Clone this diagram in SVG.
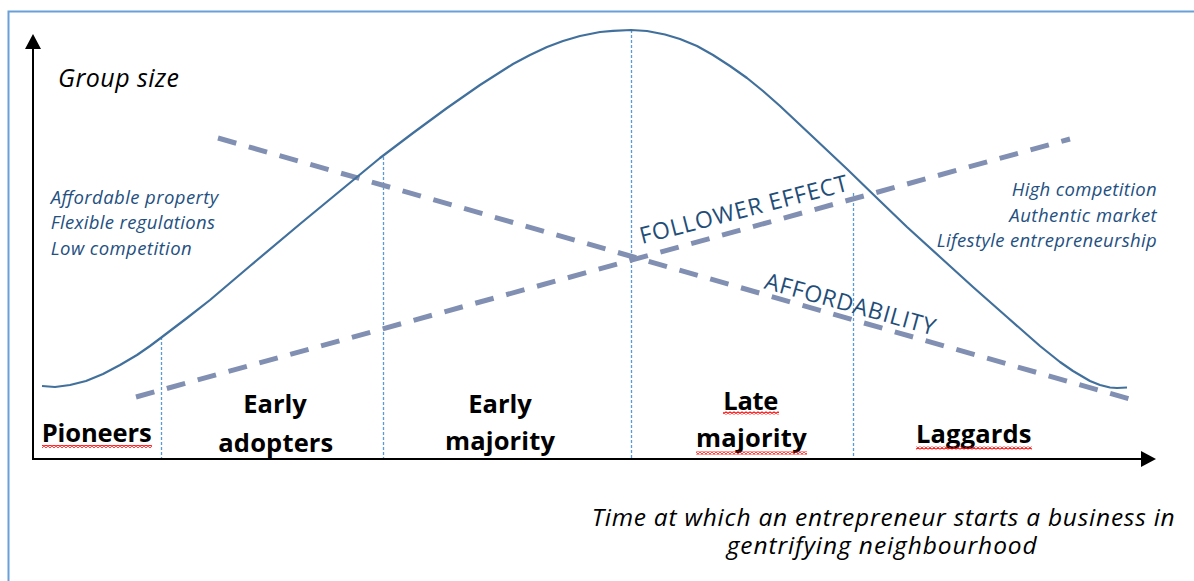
<svg xmlns="http://www.w3.org/2000/svg" width="1194" height="581" viewBox="0 0 1194 581">
<style>
.lbl{font-family:"Open Sans","Liberation Sans",sans-serif;font-style:italic;font-size:18.5px;fill:#24507f}
.stage{font-family:"Open Sans","Liberation Sans",sans-serif;font-weight:700;font-size:25.5px;fill:#000}
.axl{font-family:"Open Sans","Liberation Sans",sans-serif;font-style:italic;fill:#000}
.trend{font-family:"Open Sans","Liberation Sans",sans-serif;font-size:23px;fill:#1f4e79}
.dash{stroke:#8190b2;stroke-width:5;stroke-dasharray:19 13;fill:none}
.vdot{stroke:#5b9bd5;stroke-width:1.3;stroke-dasharray:3 2;fill:none}
.axis{stroke:#000;stroke-width:2;fill:none}
</style>
<defs>
<marker id="arr" markerUnits="userSpaceOnUse" markerWidth="16" markerHeight="18" viewBox="0 0 16 18" refX="8" refY="9" orient="auto">
<path d="M0,1 L15,9 L0,17 Z" fill="#000"/>
</marker>
<pattern id="sq" patternUnits="userSpaceOnUse" width="4" height="3">
<path d="M0,2.5 L2,0.5 L4,2.5" stroke="#ff0000" stroke-width="1.1" fill="none"/>
</pattern>
</defs>
<rect width="1194" height="581" fill="#fff"/>
<rect x="8.5" y="11.5" width="1200" height="600" fill="none" stroke="#6aa0d8" stroke-width="2"/>

<g id="connectors">
<line id="y-axis" class="axis" x1="33" y1="459" x2="33" y2="41" marker-end="url(#arr)"/>
<line id="x-axis" class="axis" x1="32" y1="459" x2="1149" y2="459" marker-end="url(#arr)"/>
<line class="vdot" x1="161.5" y1="337" x2="161.5" y2="458"/>
<line class="vdot" x1="383.5" y1="157" x2="383.5" y2="458"/>
<line class="vdot" x1="631.5" y1="30" x2="631.5" y2="458"/>
<line class="vdot" x1="853.5" y1="193" x2="853.5" y2="458"/>
<line id="affordability-line" class="dash" x1="218" y1="138" x2="1133" y2="400"/>
<line id="follower-line" class="dash" x1="136" y1="397" x2="1070" y2="139"/>
<polyline id="adoption-curve" fill="none" stroke="#41709c" stroke-width="2.2" stroke-linejoin="round" points="42,386 55,387 70,385 86,381 103,374 120,365 137,355 150,346 162,337 187,318 210,300 250,266 300,224 340,191 380,158 413,133 447,108 480,85 513,64 530,55 547,47 563,41 580,36 600,32 613,30.8 631,30 647,31 665,34.5 680,39 697,46 713,55 730,66 747,78 763,91 780,106 813,137 847,169 880,201 907,227 940,257 973,287 1007,317 1040,346 1060,362 1073,371 1090,381 1100,385 1110,387.5 1117,388 1127,387.5"/>
</g>

<g id="axis-labels">
<text class="axl" x="58" y="86.7" font-size="25" textLength="121">Group size</text>
<text class="axl" x="591.7" y="526" font-size="24.5" textLength="583">Time at which an entrepreneur starts a business in</text>
<text class="axl" x="726.7" y="554.3" font-size="24.5" textLength="310">gentrifying neighbourhood</text>
</g>

<g id="left-conditions">
<text class="lbl" x="50.7" y="204" textLength="167.6">Affordable property</text>
<text class="lbl" x="50.7" y="229.3" textLength="164.3">Flexible regulations</text>
<text class="lbl" x="50.7" y="255" textLength="141">Low competition</text>
</g>

<g id="right-conditions">
<text class="lbl" x="1011.7" y="196" textLength="145">High competition</text>
<text class="lbl" x="1009.3" y="221.7" textLength="147.4">Authentic market</text>
<text class="lbl" x="936.7" y="247.3" textLength="220">Lifestyle entrepreneurship</text>
</g>

<g id="follower-effect-label">
<text class="trend" transform="translate(642,244) rotate(-14.5)" textLength="214">FOLLOWER EFFECT</text>
</g>
<g id="affordability-label">
<text class="trend" transform="translate(763.3,288.3) rotate(15.5)" textLength="176">AFFORDABILITY</text>
</g>

<g id="pioneers">
<text class="stage" x="41.7" y="441.7" textLength="110">Pioneers</text>
<rect x="42" y="445" width="110" height="3" fill="url(#sq)"/>
</g>
<g id="early-adopters">
<text class="stage" x="243.3" y="413.3" textLength="63.4">Early</text>
<text class="stage" x="218.3" y="451.7" textLength="115">adopters</text>
</g>
<g id="early-majority">
<text class="stage" x="468.3" y="413.3" textLength="63.4">Early</text>
<text class="stage" x="445" y="450" textLength="110">majority</text>
</g>
<g id="late-majority">
<text class="stage" x="723.3" y="410" textLength="55">Late</text>
<rect x="723" y="411.5" width="56" height="3" fill="url(#sq)"/>
<text class="stage" x="696" y="446.7" textLength="110.7">majority</text>
<rect x="696" y="451.5" width="111" height="3" fill="url(#sq)"/>
</g>
<g id="laggards">
<text class="stage" x="916" y="443" textLength="115.5">Laggards</text>
<rect x="916" y="446.5" width="116" height="3" fill="url(#sq)"/>
</g>
</svg>
